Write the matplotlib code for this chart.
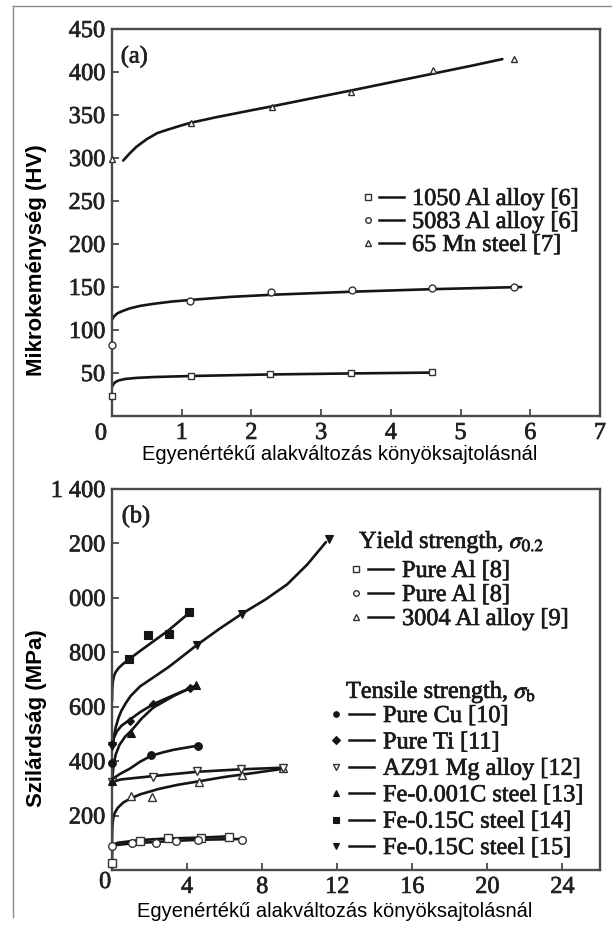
import matplotlib
matplotlib.use('Agg')
import matplotlib.pyplot as plt
import matplotlib.patheffects as pe
from matplotlib.lines import Line2D

plt.rcParams['font.family'] = ['Liberation Serif', 'DejaVu Serif']
plt.rcParams['mathtext.fontset'] = 'stix'

# ---- (a) microhardness vs. ECAP strain ----
al1050_x = [0, 1.13, 2.27, 3.43, 4.59]
al1050_hv = [23, 47, 49, 50, 51]
al1050_fit_x = [0.0, 0.02, 0.05, 0.1, 0.2, 0.35, 0.6, 1.13, 2.27, 3.43, 4.6]
al1050_fit_hv = [34, 37, 39.5, 41.5, 43.2, 44.3, 45.3, 46.5, 48.3, 49.5, 50.5]

al5083_x = [0, 1.12, 2.28, 3.44, 4.59, 5.77]
al5083_hv = [82, 134, 144, 146, 149, 150]
al5083_fit_x = [0.0, 0.03, 0.08, 0.15, 0.25, 0.4, 0.6, 0.85, 1.13, 1.7, 2.3, 3.43, 4.6, 5.87]
al5083_fit_hv = [112, 116, 119.5, 122, 125, 128, 130.5, 133, 135, 138.5, 141, 144.5, 147.5, 150]

mn65_x = [0, 1.13, 2.29, 3.43, 4.6, 5.77]
mn65_hv = [299, 341, 359, 377, 402, 415]
mn65_fit_x = [0.16, 0.25, 0.35, 0.5, 0.65, 0.8, 1.0, 1.13, 1.5, 2.0, 2.29, 2.78, 3.43, 4.0, 4.6, 5.17, 5.6]
mn65_fit_hv = [297, 305, 313, 322, 329, 333, 338, 341, 347.5, 355.5, 360, 368, 378.5, 388, 398, 407.5, 415]

# ---- (b) yield / tensile strength vs. ECAP strain ----
# yield strength
pal8a_x = [0, 1.51, 2.96, 4.75, 6.26]
pal8a_s = [25, 108, 117, 117, 123]
pal8a_fit_x = [0, 0.01, 0.05, 0.3, 1.5, 3.0, 4.75, 6.26]
pal8a_fit_s = [25, 80, 92, 100, 110, 116, 119, 124]

pal8b_x = [0, 1.06, 2.32, 3.4, 4.57, 6.94]
pal8b_s = [87, 99, 101, 106, 112, 112]
pal8b_fit_x = [0, 1.06, 2.32, 3.4, 4.57, 6.94]
pal8b_fit_s = [90, 98, 103, 107, 111, 114]

al3004_x = [0.99, 2.15, 4.64, 6.93, 9.12]
al3004_s = [273, 270, 324, 349, 375]
al3004_fit_x = [0, 0.01, 0.03, 0.07, 0.15, 0.3, 0.6, 1.0, 1.5, 2.5, 3.5, 4.64, 6.0, 7.5, 9.12]
al3004_fit_s = [100, 140, 170, 192, 210, 228, 248, 263, 278, 298, 313, 326, 342, 356, 372]

# tensile strength
cu_x = [0, 2.1, 4.57]
cu_s = [395, 422, 457]
cu_fit_x = [0, 0.15, 0.4, 0.94, 1.5, 2.1, 2.7, 3.3, 4.57]
cu_fit_s = [328, 340, 352, 372, 398, 420, 432, 442, 457]

ti_x = [0, 0.94, 2.19, 4.15]
ti_s = [462, 548, 609, 668]
ti_fit_x = [0.02, 0.1, 0.25, 0.5, 0.94, 1.5, 2.19, 3.2, 4.15]
ti_fit_s = [462, 485, 508, 530, 552, 580, 609, 640, 668]

az91_x = [0, 2.19, 4.55, 6.89, 9.12]
az91_s = [324, 343, 364, 371, 376]
az91_fit_x = [0, 0.5, 2.19, 4.55, 6.89, 9.12]
az91_fit_s = [324, 333, 345, 361, 370, 376]

fe001_x = [0, 1.03, 4.5]
fe001_s = [328, 505, 679]
fe001_fit_x = [0.02, 0.08, 0.2, 0.4, 0.7, 1.03, 1.6, 2.2, 3.3, 4.5]
fe001_fit_s = [335, 385, 425, 460, 490, 512, 558, 597, 640, 679]

fe15a_x = [0.9, 1.92, 3.03, 4.12]
fe15a_s = [774, 862, 869, 948]
fe15a_fit_x = [0.0, 0.01, 0.04, 0.1, 0.2, 0.35, 0.55, 0.9, 1.4, 2.0, 3.0, 4.12]
fe15a_fit_s = [620, 660, 690, 712, 728, 742, 755, 774, 800, 830, 880, 945]

fe15b_x = [0, 4.51, 6.93, 11.54]
fe15b_s = [456, 826, 942, 1215]
fe15b_fit_x = [0.04, 0.1, 0.2, 0.35, 0.5, 0.75, 1.0, 1.5, 2.19, 3.0, 3.62, 4.51,
               5.7, 6.93, 8.2, 9.34, 10.41, 11.4]
fe15b_fit_s = [456, 490, 525, 560, 585, 615, 640, 675, 707, 745, 778, 826,
               885, 942, 995, 1050, 1123, 1205]

top_xticks = [1, 2, 3, 4, 5, 6, 7]
top_yticks = [50, 100, 150, 200, 250, 300, 350, 400, 450]
bot_xticks = [4, 8, 12, 16, 20, 24]
bot_yticks = [200, 400, 600, 800, 1000, 1200, 1400]
bot_ytick_labels = ['200', '400', '600', '800', '000', '200', '1 400']

xlabel = 'Egyenértékű alakváltozás könyöksajtolásnál'

W, H = 612, 929
INK = '#151515'
SPINE = '#4a4a4a'
SERIF = 17.5
THICK = [pe.withStroke(linewidth=0.5, foreground='#222222')]


def fx(x):
    return x / W


def fy(y):
    return 1 - y / H


def mstyle(m):
    # open markers for yield / hardness, filled ones for tensile strength
    if m.startswith('o_'):
        return dict(marker=m[2:], mfc='white', mec='#333333', mew=1.0)
    return dict(marker=m, mfc=INK, mec=INK, mew=0.8)


def style_axes(ax):
    for s in ax.spines.values():
        s.set_color(SPINE)
        s.set_linewidth(1.7)
    ax.tick_params(direction='in', length=5, width=1.3, color=SPINE,
                   labelsize=SERIF, pad=5, top=False, right=False)
    for t in ax.get_xticklabels() + ax.get_yticklabels():
        t.set_color('#222222')
        t.set_path_effects(THICK)


def serif_text(x, y, s):
    fig.text(fx(x), fy(y), s, ha='left', va='center_baseline', fontsize=SERIF,
             color='#1a1a1a', path_effects=THICK)


def legend_row(y, m, label, mx, lx0, lx1, tx, ms=4.0):
    fig.add_artist(Line2D([fx(mx)], [fy(y)], ms=ms, ls='none', **mstyle(m)))
    fig.add_artist(Line2D([fx(lx0), fx(lx1)], [fy(y), fy(y)], color=INK, lw=1.8))
    serif_text(tx, y, label)


fig = plt.figure(figsize=(6.12, 9.29), dpi=100)

# thin frame lines of the figure
fig.add_artist(Line2D([fx(13), fx(612)], [fy(7), fy(7)], color='#8a8a8a', lw=1.0))
fig.add_artist(Line2D([fx(13), fx(13)], [fy(7), fy(918)], color='#8a8a8a', lw=1.0))

# ---------- (a) ----------
ax1 = fig.add_axes([fx(112), fy(417), fx(600) - fx(112), fy(30) - fy(417)])
top_series = [
    ('1050 Al alloy [6]', 'o_s', al1050_x, al1050_hv, al1050_fit_x, al1050_fit_hv),
    ('5083 Al alloy [6]', 'o_o', al5083_x, al5083_hv, al5083_fit_x, al5083_fit_hv),
    ('65 Mn steel [7]', 'o_^', mn65_x, mn65_hv, mn65_fit_x, mn65_fit_hv),
]
for label, m, x, y, fxs, fys in top_series:
    ax1.plot(fxs, fys, color=INK, lw=1.9, solid_capstyle='round', solid_joinstyle='round')
    ax1.plot(x, y, ls='none', ms=5, clip_on=False, zorder=3, **mstyle(m))

ax1.set_xlim(0, 7)
ax1.set_ylim(0, 450)
ax1.set_xticks(top_xticks)
ax1.set_yticks(top_yticks)
style_axes(ax1)
ax1.annotate('0', xy=(0, 0), xytext=(-8, -13), textcoords='offset points',
             ha='center', va='center', fontsize=SERIF, color='#222222', path_effects=THICK)
ax1.text(0.018, 0.955, '(a)', transform=ax1.transAxes, fontsize=SERIF, va='top',
         color='#222222', path_effects=THICK)

for i, (label, m, *_) in enumerate(top_series):
    legend_row(198 + 23 * i, m, label, 368, 379, 404, 412)

fig.text(fx(340), fy(455), xlabel, family='Liberation Sans', fontsize=14.5,
         ha='center', va='center')
fig.text(fx(37), fy(260), 'Mikrokeménység (HV)', family='Liberation Sans',
         fontsize=16, fontweight='bold', rotation=90, ha='center', va='center')

# ---------- (b) ----------
ax2 = fig.add_axes([fx(112), fy(871), fx(600) - fx(112), fy(490) - fy(871)])
yield_series = [
    ('Pure Al [8]', 'o_s', pal8a_x, pal8a_s, pal8a_fit_x, pal8a_fit_s),
    ('Pure Al [8]', 'o_o', pal8b_x, pal8b_s, pal8b_fit_x, pal8b_fit_s),
    ('3004 Al alloy [9]', 'o_^', al3004_x, al3004_s, al3004_fit_x, al3004_fit_s),
]
tensile_series = [
    ('Pure Cu [10]', 'o', cu_x, cu_s, cu_fit_x, cu_fit_s),
    ('Pure Ti [11]', 'D', ti_x, ti_s, ti_fit_x, ti_fit_s),
    ('AZ91 Mg alloy [12]', 'o_v', az91_x, az91_s, az91_fit_x, az91_fit_s),
    ('Fe-0.001C steel [13]', '^', fe001_x, fe001_s, fe001_fit_x, fe001_fit_s),
    ('Fe-0.15C steel [14]', 's', fe15a_x, fe15a_s, fe15a_fit_x, fe15a_fit_s),
    ('Fe-0.15C steel [15]', 'v', fe15b_x, fe15b_s, fe15b_fit_x, fe15b_fit_s),
]
for label, m, x, y, fxs, fys in yield_series + tensile_series:
    ax2.plot(fxs, fys, color=INK, lw=1.9, solid_capstyle='round', solid_joinstyle='round')
    ms = 4.5 if m == 'D' else 5.5
    ax2.plot(x, y, ls='none', ms=ms, clip_on=False, zorder=3, **mstyle(m))

ax2.set_xlim(0, 26)
ax2.set_ylim(0, 1400)
ax2.set_xticks(bot_xticks)
ax2.set_yticks(bot_yticks)
ax2.set_yticklabels(bot_ytick_labels)
style_axes(ax2)
ax2.annotate('0', xy=(0, 0), xytext=(-5, -9), textcoords='offset points',
             ha='center', va='center', fontsize=SERIF, color='#222222', path_effects=THICK)
ax2.text(0.02, 0.955, '(b)', transform=ax2.transAxes, fontsize=SERIF, va='top',
         color='#222222', path_effects=THICK)

serif_text(359, 540, r'Yield strength, $\sigma_{0.2}$')
for i, (label, m, *_) in enumerate(yield_series):
    legend_row(570 + 24 * i, m, label, 356, 368, 393, 402)

serif_text(346, 690, r'Tensile strength, $\sigma_{\mathrm{b}}$')
for i, (label, m, *_) in enumerate(tensile_series):
    legend_row(715 + 26.4 * i, m, label, 336, 349, 374, 383)

fig.text(fx(335), fy(912), xlabel, family='Liberation Sans', fontsize=14.5,
         ha='center', va='center')
fig.text(fx(37), fy(718), 'Szilárdság (MPa)', family='Liberation Sans',
         fontsize=16, fontweight='bold', rotation=90, ha='center', va='center')

fig.savefig('out.png', dpi=100)
